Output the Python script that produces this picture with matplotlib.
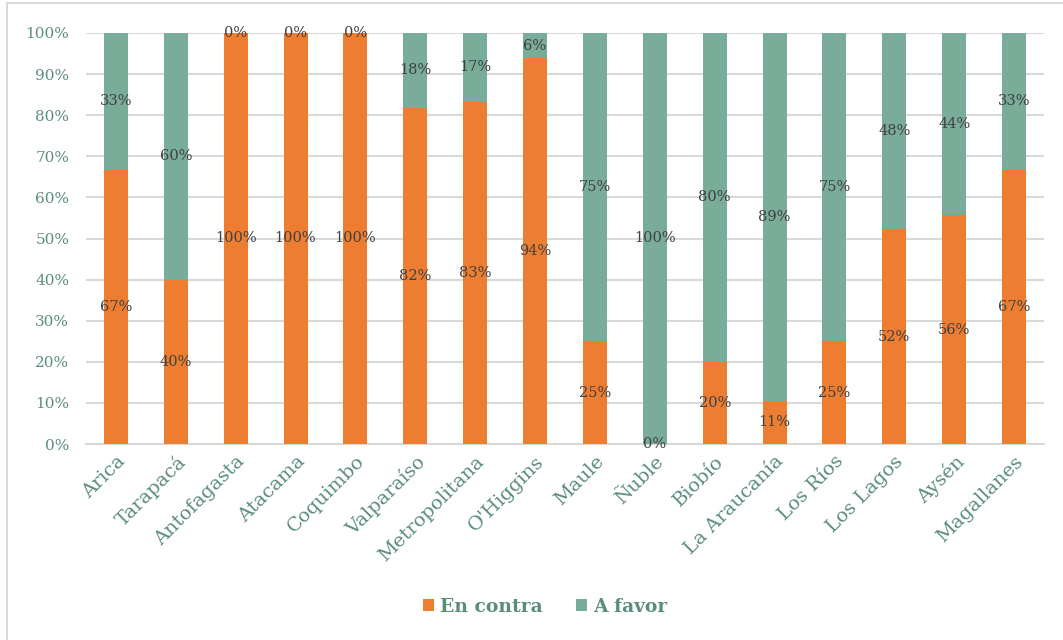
import matplotlib.pyplot as plt
import numpy as np
from matplotlib.patches import Rectangle

regiones = ["Arica", "Tarapacá", "Antofagasta", "Atacama", "Coquimbo", "Valparaíso",
            "Metropolitana", "O'Higgins", "Maule", "Ñuble", "Biobío", "La Araucanía",
            "Los Ríos", "Los Lagos", "Aysén", "Magallanes"]
en_contra = [66.7, 40.0, 100.0, 100.0, 100.0, 81.8, 83.3, 93.8, 25.0, 0.0, 20.0, 10.53,
             25.0, 52.2, 55.6, 66.7]
a_favor = [33.3, 60.0, 0.0, 0.0, 0.0, 18.2, 16.7, 6.2, 75.0, 100.0, 80.0, 89.47,
           75.0, 47.8, 44.4, 33.3]

naranja = '#ED7D31'
verde = '#7AAD99'
texto = '#5A8E78'
gris = '#404040'

plt.rcParams['font.family'] = ['DejaVu Serif']

fig = plt.figure(figsize=(10.63, 6.4), dpi=100)
ax = fig.add_axes([86 / 1063, 1 - 444 / 640, (1044 - 86) / 1063, (444 - 33) / 640])

x = np.arange(len(regiones))
c = np.array(en_contra) / 100
f = np.array(a_favor) / 100
b1 = ax.bar(x, c, width=0.4, color=naranja, label='En contra', zorder=3)
b2 = ax.bar(x, f, width=0.4, bottom=c, color=verde, label='A favor', zorder=3)

def pct(v):
    return '%d%%' % int(v + 0.5)

for i in range(len(regiones)):
    ax.text(x[i], c[i] / 2, pct(en_contra[i]), ha='center', va='center',
            fontsize=10.5, color=gris, zorder=4)
    ax.text(x[i], c[i] + f[i] / 2, pct(a_favor[i]), ha='center', va='center',
            fontsize=10.5, color=gris, zorder=4)

ax.set_xlim(-0.5, len(regiones) - 0.5)
ax.set_ylim(0, 1)
ax.set_yticks(np.arange(0, 1.01, 0.1))
ax.set_yticklabels(['%d%%' % v for v in range(0, 101, 10)], fontsize=11, color=texto)
ax.set_xticks(x)
ax.set_xticklabels(regiones, rotation=45, ha='right', rotation_mode='anchor',
                   fontsize=14, color=texto)
ax.tick_params(axis='both', length=0)
ax.tick_params(axis='y', pad=12)
ax.tick_params(axis='x', pad=6)
ax.grid(axis='y', color='#D9D9D9', linewidth=1.5, zorder=0)
for s in ['top', 'right', 'left']:
    ax.spines[s].set_visible(False)
ax.spines['bottom'].set_color('#D9D9D9')
ax.spines['bottom'].set_linewidth(1.5)

leg = fig.legend(handles=[b1, b2], loc='center', bbox_to_anchor=(545 / 1063, 1 - 607 / 640),
                 ncol=2, frameon=False, handlelength=0.6, handleheight=0.6,
                 handletextpad=0.3, columnspacing=1.8,
                 prop={'size': 13.5, 'weight': 'bold'})
for t in leg.get_texts():
    t.set_color(texto)

# marco del grafico
fig.patches.append(Rectangle((7 / 1063, -0.1), 1.2, 1 - 3 / 640 + 0.1,
                             transform=fig.transFigure, fill=False,
                             edgecolor='#D9D9D9', linewidth=1.5))

fig.savefig('out.png', dpi=100)
